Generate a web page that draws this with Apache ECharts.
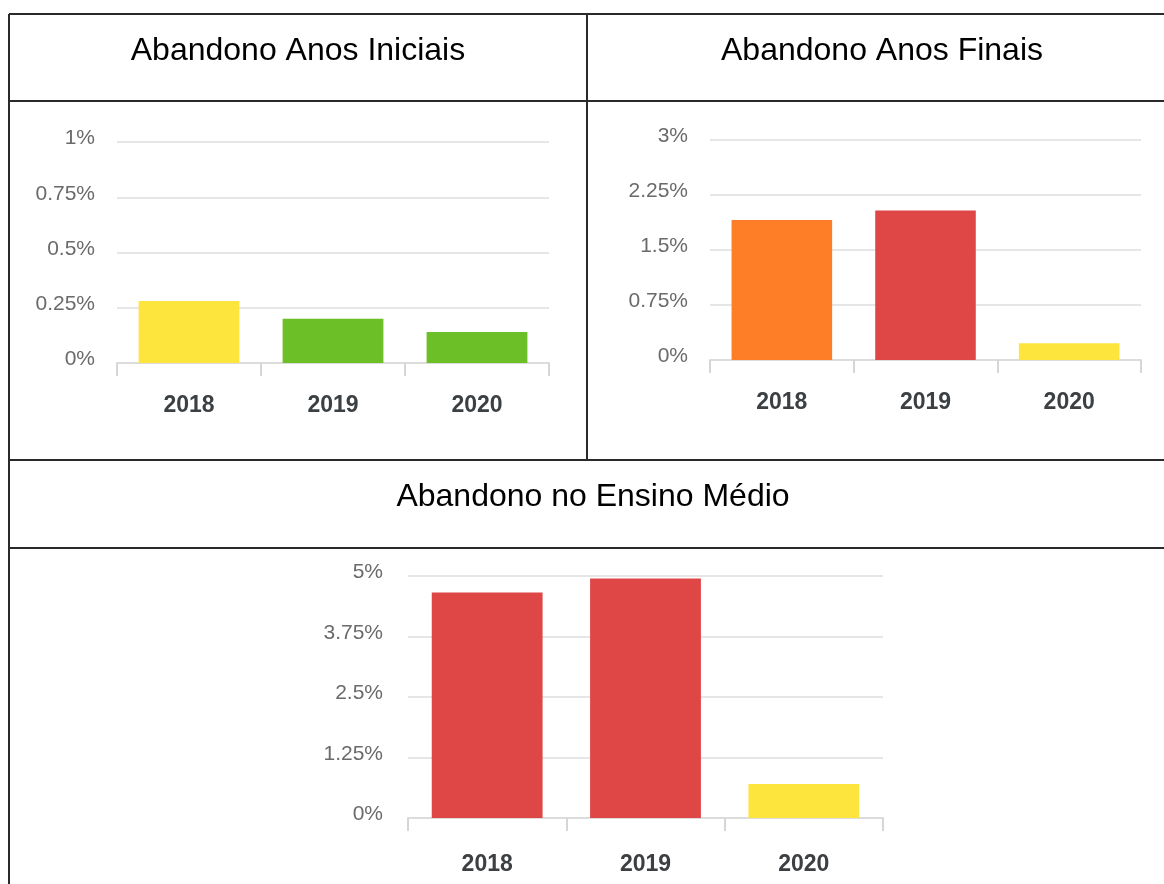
<!DOCTYPE html>
<html>
<head>
<meta charset="utf-8">
<script src="https://cdn.jsdelivr.net/npm/echarts@6/dist/echarts.min.js"></script>
<style>
html, body { margin: 0; padding: 0; background: #fff; }
#main { width: 1164px; height: 884px; }
</style>
</head>
<body>
<div id="main"></div>
<script>
// dados
const anos = ['2018', '2019', '2020']
const iniciais = [0.28, 0.2, 0.14]
const finais = [1.91, 2.04, 0.23]
const medio = [4.66, 4.95, 0.7]
const faixaIniciais = ['amarelo', 'verde', 'verde']
const faixaFinais = ['laranja', 'vermelho', 'amarelo']
const faixaMedio = ['vermelho', 'vermelho', 'amarelo']
const ticksIniciais = [0, 0.25, 0.5, 0.75, 1]
const ticksFinais = [0, 0.75, 1.5, 2.25, 3]
const ticksMedio = [0, 1.25, 2.5, 3.75, 5]
const titulos = ['Abandono Anos Iniciais', 'Abandono Anos Finais', 'Abandono no Ensino Médio']

const cores = {
  verde: '#6cbf27',
  amarelo: '#fee53e',
  laranja: '#fe7d27',
  vermelho: '#df4747'
}

const font = 'Arial, "Liberation Sans", sans-serif'

function xAxis (idx, margin) {
  return {
    type: 'category',
    gridIndex: idx,
    data: anos,
    axisLine: { lineStyle: { color: '#dcdcdc', width: 2 } },
    axisTick: { show: true, length: 13, lineStyle: { color: '#d6d6d6', width: 2 } },
    axisLabel: { margin: margin, fontSize: 23, fontWeight: 'bold', color: '#3c4043', fontFamily: font }
  }
}

function yAxis (idx, ticks, margin) {
  return {
    type: 'value',
    gridIndex: idx,
    min: ticks[0],
    max: ticks[ticks.length - 1],
    interval: ticks[1] - ticks[0],
    axisLine: { show: false },
    axisTick: { show: false },
    splitLine: { lineStyle: { color: '#e6e6e6', width: 2 } },
    axisLabel: {
      margin: margin,
      fontSize: 21,
      color: '#6a6a6a',
      fontFamily: font,
      verticalAlign: 'bottom',
      lineHeight: 7,
      formatter: v => v + '%'
    }
  }
}

function serie (idx, valores, faixas) {
  return {
    type: 'bar',
    xAxisIndex: idx,
    yAxisIndex: idx,
    barWidth: '70%',
    data: valores.map((v, i) => ({ value: v, itemStyle: { color: cores[faixas[i]] } }))
  }
}

function linha (x1, y1, x2, y2) {
  return { type: 'line', shape: { x1, y1, x2, y2 }, style: { stroke: '#2a2a2a', lineWidth: 2 }, silent: true }
}

function titulo (texto, x, y) {
  return {
    type: 'text',
    x: x,
    y: y,
    style: { text: texto, fill: '#000', font: '32px ' + font, align: 'center', verticalAlign: 'middle' }
  }
}

const chart = echarts.init(document.getElementById('main'))
chart.setOption({
  animation: false,
  grid: [
    { left: 117, top: 142, width: 432, height: 221 },
    { left: 710, top: 140, width: 431, height: 220 },
    { left: 408, top: 576, width: 475, height: 242 }
  ],
  xAxis: [xAxis(0, 31), xAxis(1, 31), xAxis(2, 35)],
  yAxis: [yAxis(0, ticksIniciais, 22), yAxis(1, ticksFinais, 22), yAxis(2, ticksMedio, 25)],
  series: [
    serie(0, iniciais, faixaIniciais),
    serie(1, finais, faixaFinais),
    serie(2, medio, faixaMedio)
  ],
  graphic: [
    linha(9, 14, 1164, 14),
    linha(9, 101, 1164, 101),
    linha(9, 460, 1164, 460),
    linha(9, 548, 1164, 548),
    linha(9, 14, 9, 884),
    linha(587, 14, 587, 460),
    titulo(titulos[0], 298, 51),
    titulo(titulos[1], 882, 51),
    titulo(titulos[2], 593, 497)
  ]
})
</script>
</body>
</html>
